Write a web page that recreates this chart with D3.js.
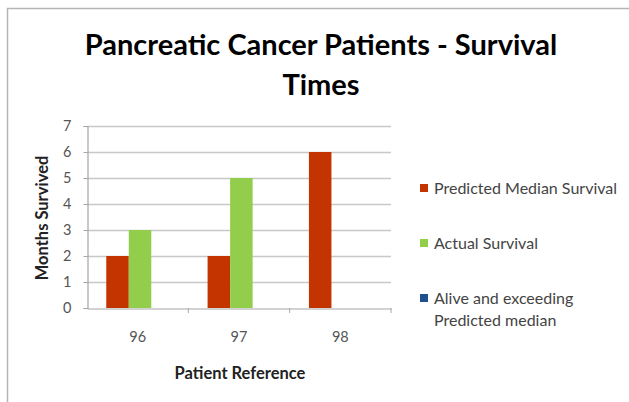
<!DOCTYPE html>
<html>
<head>
<meta charset="utf-8">
<script src="https://cdn.jsdelivr.net/npm/d3@7"></script>
<style>
  html, body { margin: 0; padding: 0; background: #fff; }
  svg { display: block; }
  text { font-family: Lato, "Open Sans", sans-serif; }
</style>
</head>
<body>
<svg id="chart" width="629" height="402"></svg>
<script>
// Patients and survival times (months)
const patients = ["96", "97", "98"];
const seriesNames = ["Predicted Median Survival", "Actual Survival", "Alive and exceeding Predicted median"];
const predictedMedian = [2, 2, 6];
const actualSurvival = [3, 5, 0];
const aliveExceeding = [0, 0, 0];
const seriesColors = ["#C43400", "#92CD4C", "#1F4F8F"];
const yTicks = [0, 1, 2, 3, 4, 5, 6, 7];

const seriesValues = [predictedMedian, actualSurvival, aliveExceeding];

const svg = d3.select("#chart");

// outer chart frame (left and top edges)
svg.append("path")
  .attr("d", "M7.5,402 V8.5 H629")
  .attr("fill", "none")
  .attr("stroke", "#b5b5b5")
  .attr("stroke-width", 1.5);

// title
const title = svg.append("text")
  .attr("text-anchor", "middle")
  .attr("font-weight", "bold")
  .attr("font-size", 29)
  .attr("fill", "#000");
title.append("tspan").attr("x", 321).attr("y", 55).text("Pancreatic Cancer Patients - Survival");
title.append("tspan").attr("x", 321).attr("y", 95).text("Times");

// plot area
const plot = { left: 87, right: 391, top: 126, bottom: 308 };

const x = d3.scaleBand()
  .domain(patients)
  .range([plot.left, plot.right])
  .paddingInner(0)
  .paddingOuter(0);

const xInner = d3.scaleBand()
  .domain(d3.range(seriesNames.length))
  .range([0, x.bandwidth()])
  .paddingInner(0)
  .paddingOuter(0.75)
  .align(0.57);

const y = d3.scaleLinear()
  .domain([0, 7])
  .range([plot.bottom, plot.top]);

// horizontal gridlines
svg.append("g")
  .selectAll("line")
  .data(yTicks.filter(t => t > 0))
  .join("line")
  .attr("x1", plot.left)
  .attr("x2", plot.right)
  .attr("y1", d => Math.round(y(d)) + 0.5)
  .attr("y2", d => Math.round(y(d)) + 0.5)
  .attr("stroke", "#c8c8c8")
  .attr("stroke-width", 1.5);

// bars
seriesValues.forEach((vals, si) => {
  svg.append("g")
    .selectAll("rect")
    .data(patients.map((p, i) => ({ p, v: vals[i] })))
    .join("rect")
    .attr("x", d => x(d.p) + xInner(si))
    .attr("width", xInner.bandwidth())
    .attr("y", d => y(d.v))
    .attr("height", d => y(0) - y(d.v))
    .attr("fill", seriesColors[si]);
});

// y axis
const yAxis = svg.append("g")
  .attr("transform", `translate(${plot.left + 0.5},0)`)
  .call(d3.axisLeft(y).tickValues(yTicks).tickSize(4).tickPadding(12).tickFormat(d3.format("d")));
yAxis.select(".domain").attr("stroke", "#a6a6a6").attr("stroke-width", 1.2);
yAxis.selectAll(".tick line").attr("stroke", "#a6a6a6");
yAxis.selectAll(".tick text")
  .attr("font-size", 14.5)
  .attr("fill", "#555")
  .attr("font-family", "Lato, sans-serif");

// x axis
const xAxis = svg.append("g")
  .attr("transform", `translate(0,${plot.bottom + 0.5})`)
  .call(d3.axisBottom(x).tickSize(0).tickPadding(23));
xAxis.select(".domain").attr("stroke", "#a6a6a6").attr("stroke-width", 1.2);
xAxis.selectAll(".tick text")
  .attr("font-size", 14.5)
  .attr("fill", "#555")
  .attr("font-family", "Lato, sans-serif");
// category boundary tick marks
svg.append("g")
  .selectAll("line")
  .data(patients.slice(1).concat(["end"]))
  .join("line")
  .attr("x1", d => d === "end" ? plot.right : x(d))
  .attr("x2", d => d === "end" ? plot.right : x(d))
  .attr("y1", plot.bottom)
  .attr("y2", plot.bottom + 5)
  .attr("stroke", "#a6a6a6");

// axis titles
svg.append("text")
  .attr("transform", `translate(48,${(plot.top + plot.bottom) / 2 + 1}) rotate(-90)`)
  .attr("text-anchor", "middle")
  .attr("font-weight", "bold")
  .attr("font-size", 16.5)
  .attr("fill", "#222")
  .text("Months Survived");

svg.append("text")
  .attr("x", 240)
  .attr("y", 379)
  .attr("text-anchor", "middle")
  .attr("font-weight", "bold")
  .attr("font-size", 16.5)
  .attr("fill", "#222")
  .text("Patient Reference");

// legend
const legendRows = [
  { lines: ["Predicted Median Survival"], y: 188 },
  { lines: ["Actual Survival"], y: 243 },
  { lines: ["Alive and exceeding", "Predicted median"], y: 298 }
];
const legend = svg.append("g");
legendRows.forEach((row, i) => {
  legend.append("rect")
    .attr("x", 420)
    .attr("y", row.y - 4)
    .attr("width", 8)
    .attr("height", 8)
    .attr("fill", seriesColors[i]);
  const t = legend.append("text")
    .attr("font-size", 16)
    .attr("fill", "#444");
  row.lines.forEach((ln, j) => {
    t.append("tspan")
      .attr("x", 434)
      .attr("y", row.y + 5.5 + j * 22)
      .text(ln);
  });
});
</script>
</body>
</html>
